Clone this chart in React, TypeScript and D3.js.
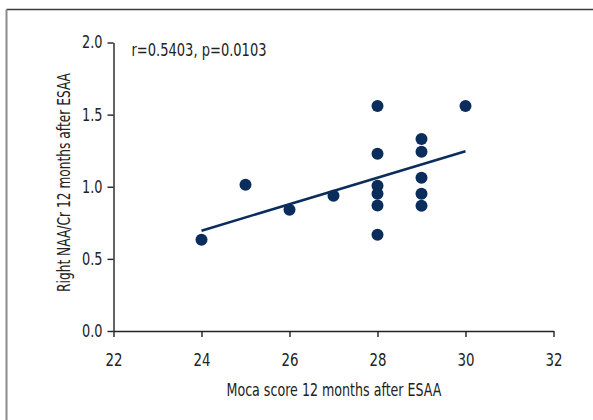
import React, { useRef, useEffect } from "react";
import * as d3 from "d3";

// Moca score (x) and right NAA/Cr (y)
const mocaScores = [24, 25, 26, 27, 28, 28, 28, 28, 28, 28, 29, 29, 29, 29, 29, 30];
const naaCr = [0.632, 1.014, 0.84, 0.938, 1.56, 1.229, 1.007, 0.951, 0.87, 0.667, 1.331, 1.243, 1.062, 0.951, 0.868, 1.56];

const xTicks = [22, 24, 26, 28, 30, 32];
const yTicks = [0, 0.5, 1, 1.5, 2];
const statLabel = "r=0.5403, p=0.0103";
const xLabel = "Moca score 12 months after ESAA";
const yLabel = "Right NAA/Cr 12 months after ESAA";

const W = 593;
const H = 420;
const FONT = "'DejaVu Sans', sans-serif";
const NAVY = "#0b2d5b";
const INK = "#222";

const App: React.FC = () => {
  const svgRef = useRef<SVGSVGElement>(null);

  useEffect(() => {
    if (!svgRef.current) return;
    const svg = d3.select(svgRef.current);
    svg.selectAll("*").remove();

    const x = d3.scaleLinear().domain([22, 32]).range([113.5, 553.5]);
    const y = d3.scaleLinear().domain([0, 2]).range([331, 42.5]);

    // outer frame (only top and left edges show)
    svg.append("line").attr("x1", 6.5).attr("x2", W).attr("y1", 9.5).attr("y2", 9.5)
      .attr("stroke", "#3a3a3a").attr("stroke-width", 1.5);
    svg.append("line").attr("x1", 6.5).attr("x2", 6.5).attr("y1", 9.5).attr("y2", H)
      .attr("stroke", "#8a8a8a").attr("stroke-width", 2);

    const xAxis = svg.append("g").attr("transform", `translate(0,${y(0)})`)
      .call(d3.axisBottom(x).tickValues(xTicks).tickSize(6).tickSizeOuter(0).tickPadding(17).tickFormat(d3.format("d")));
    const yAxis = svg.append("g").attr("transform", `translate(${x(22)},0)`)
      .call(d3.axisLeft(y).tickValues(yTicks).tickSize(6).tickSizeOuter(0).tickPadding(5).tickFormat(d3.format(".1f")));

    [xAxis, yAxis].forEach((g) => {
      g.select(".domain").attr("stroke", INK).attr("stroke-width", 1.4);
      g.selectAll(".tick line").attr("stroke", INK).attr("stroke-width", 1.4);
      g.selectAll(".tick text").attr("fill", INK).attr("font-family", FONT).attr("font-size", 17)
        .attr("lengthAdjust", "spacingAndGlyphs")
        .attr("textLength", function () {
          return (this as SVGTextElement).textContent!.length === 2 ? 17 : 20.5;
        });
    });

    // least squares fit
    const mx = d3.mean(mocaScores) as number;
    const my = d3.mean(naaCr) as number;
    let sxy = 0;
    let sxx = 0;
    mocaScores.forEach((v, i) => {
      sxy += (v - mx) * (naaCr[i] - my);
      sxx += (v - mx) * (v - mx);
    });
    const slope = sxy / sxx;
    const icpt = my - slope * mx;
    const [x0, x1] = d3.extent(mocaScores) as [number, number];
    svg.append("line")
      .attr("x1", x(x0)).attr("y1", y(icpt + slope * x0))
      .attr("x2", x(x1)).attr("y2", y(icpt + slope * x1))
      .attr("stroke", NAVY).attr("stroke-width", 2.6);

    svg.append("g").selectAll("circle")
      .data(mocaScores.map((v, i) => [v, naaCr[i]]))
      .enter().append("circle")
      .attr("cx", (d) => x(d[0])).attr("cy", (d) => y(d[1]))
      .attr("r", 6).attr("fill", NAVY);

    svg.append("text").attr("x", 131.5).attr("y", 56)
      .attr("font-family", FONT).attr("font-size", 17).attr("fill", INK)
      .attr("textLength", 135).attr("lengthAdjust", "spacingAndGlyphs")
      .text(statLabel);

    svg.append("text").attr("x", 226.5).attr("y", 396)
      .attr("font-family", FONT).attr("font-size", 17).attr("fill", INK)
      .attr("textLength", 215).attr("lengthAdjust", "spacingAndGlyphs")
      .text(xLabel);
    svg.append("text").attr("transform", `translate(70,${182.5 + 109.5}) rotate(-90)`)
      .attr("font-family", FONT).attr("font-size", 17).attr("fill", INK)
      .attr("textLength", 219).attr("lengthAdjust", "spacingAndGlyphs")
      .text(yLabel);
  }, []);

  return (
    <svg ref={svgRef} width={W} height={H}
      style={{ position: "absolute", left: 0, top: 0, background: "#fff" }} />
  );
};

export default App;
